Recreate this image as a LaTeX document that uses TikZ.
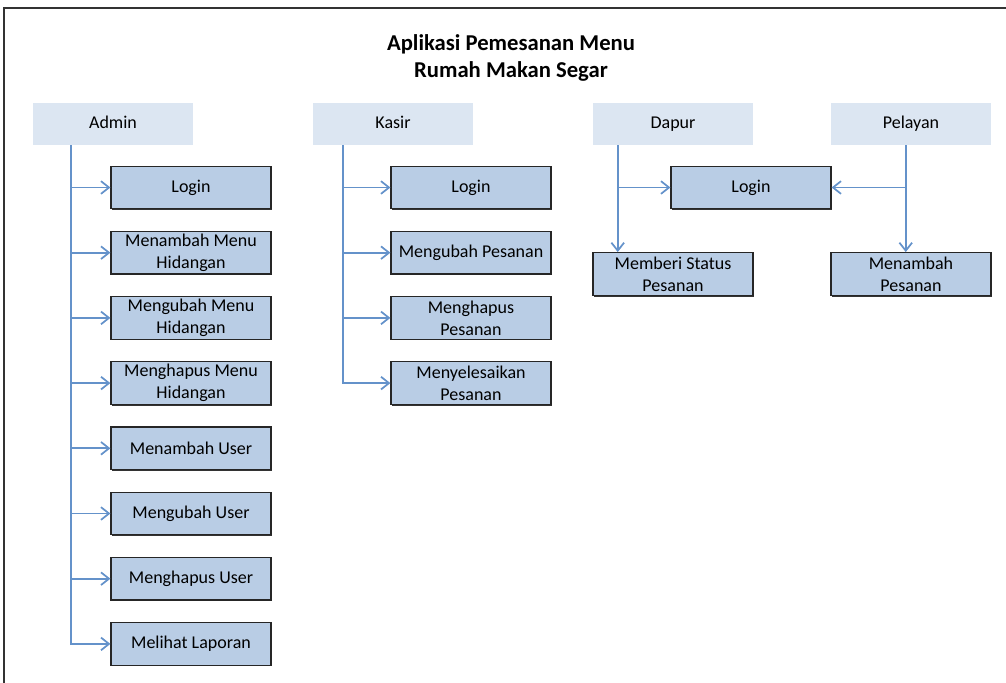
\documentclass[tikz,border=0pt]{standalone}
\usepackage{fontspec}
\setmainfont{Carlito}
\usepackage{tikz}
\usetikzlibrary{arrows.meta,positioning,calc,shadows}
\definecolor{headfill}{RGB}{220,230,242}
\definecolor{itemfill}{RGB}{185,205,229}
\definecolor{linkblue}{RGB}{100,146,202}

\begin{document}
\begin{tikzpicture}[x=0.75pt, y=-0.75pt,
  actor/.style={fill=headfill, minimum width=120pt, minimum height=31.5pt,
                text height=9.5pt, text depth=2.5pt,
                font=\fontsize{13.5}{16.5}\selectfont},
  item/.style={draw=black!85, line width=0.9pt, fill=itemfill, align=center,
               minimum width=120pt, minimum height=32pt, inner sep=1pt,
               font=\fontsize{13.5}{16.5}\selectfont,
               drop shadow={shadow xshift=0.4pt, shadow yshift=-0.9pt, opacity=1, fill=black!80}},
  arr/.style={-{Straight Barb[length=6pt, width=9.5pt]}, line width=1.3pt, color=linkblue}
]
  \useasboundingbox (0,0) rectangle (1006,682);
  \draw[line width=1pt, black!80] (4,8) rectangle (1020,700);
  \node[font=\bfseries\fontsize{17}{20.25}\selectfont, align=center] (title) at (511,58)
    {Aplikasi Pemesanan Menu\\Rumah Makan Segar};

  % actors
  \node[actor] (admin) at (113,124) {Admin};
  \node[actor] (kasir) at (393,124) {Kasir};
  \node[actor] (dapur) at (673,124) {Dapur};
  \node[actor] (pelayan) at (911,124) {Pelayan};

  % admin
  \node[item] (a1) at (191,187.5) {Login};
  \node[item, below=16pt of a1] (a2) {Menambah Menu\\Hidangan};
  \node[item, below=16pt of a2] (a3) {Mengubah Menu\\Hidangan};
  \node[item, below=16pt of a3] (a4) {Menghapus Menu\\Hidangan};
  \node[item, below=16pt of a4] (a5) {Menambah User};
  \node[item, below=16pt of a5] (a6) {Mengubah User};
  \node[item, below=16pt of a6] (a7) {Menghapus User};
  \node[item, below=16pt of a7] (a8) {Melihat Laporan};

  % kasir
  \node[item] (k1) at (471,187.5) {Login};
  \node[item, below=16pt of k1] (k2) {Mengubah Pesanan};
  \node[item, below=16pt of k2] (k3) {Menghapus\\Pesanan};
  \node[item, below=16pt of k3] (k4) {Menyelesaikan\\Pesanan};

  % dapur & pelayan
  \node[item] (d1) at (751,187.5) {Login};
  \node[item] (d2) at (673,274) {Memberi Status\\Pesanan};
  \node[item] (p2) at (911,274) {Menambah\\Pesanan};

  \coordinate (atop) at ($(admin.south west)+(38,0)$);
  \coordinate (ktop) at ($(kasir.south west)+(30,0)$);
  \coordinate (dtop) at ($(dapur.south west)+(25,0)$);
  \coordinate (ptop) at ($(pelayan.south west)+(75,0)$);

  \draw[arr] (atop) |- (a1);
  \draw[arr] (atop) |- (a2);
  \draw[arr] (atop) |- (a3);
  \draw[arr] (atop) |- (a4);
  \draw[arr] (atop) |- (a5);
  \draw[arr] (atop) |- (a6);
  \draw[arr] (atop) |- (a7);
  \draw[arr] (atop) |- (a8);

  \draw[arr] (ktop) |- (k1);
  \draw[arr] (ktop) |- (k2);
  \draw[arr] (ktop) |- (k3);
  \draw[arr] (ktop) |- (k4);

  \draw[arr] (dtop) |- (d1);
  \draw[arr] (dtop) -- (dtop |- d2.north);
  \draw[arr] (ptop) |- (d1);
  \draw[arr] (ptop) -- (ptop |- p2.north);
\end{tikzpicture}
\end{document}
